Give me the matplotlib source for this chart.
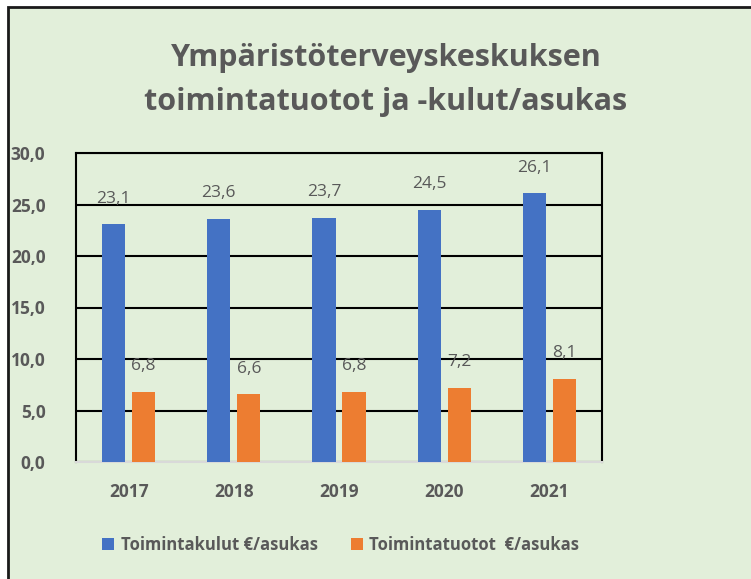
import matplotlib
matplotlib.use("Agg")
import matplotlib.pyplot as plt
import numpy as np
from matplotlib.patches import Rectangle

years = ["2017", "2018", "2019", "2020", "2021"]
kulut = [23.1, 23.6, 23.7, 24.5, 26.1]
tuotot = [6.8, 6.6, 6.8, 7.2, 8.1]
title = "Ympäristöterveyskeskuksen\ntoimintatuotot ja -kulut/asukas"
labels = ["Toimintakulut €/asukas", "Toimintatuotot  €/asukas"]

plt.rcParams["font.family"] = ["Open Sans", "DejaVu Sans"]
W, H = 751, 579
BG = "#e2efda"
TXT = "#595959"
BLUE = "#4472c4"
ORANGE = "#ed7d31"

fig = plt.figure(figsize=(W / 100, H / 100), dpi=100, facecolor="white")
fig.patches.append(Rectangle((8 / W, -0.01), 1.0, 1 - 7 / H + 0.01, transform=fig.transFigure,
                             facecolor=BG, edgecolor="#1a1a1a", lw=2, zorder=-5))

ax = fig.add_axes([76 / W, 1 - 462 / H, (602 - 76) / W, (462 - 153) / H], zorder=2)
ax.set_facecolor(BG)
x = np.arange(len(years))
w = 0.22
b1 = ax.bar(x - 0.143, kulut, w, color=BLUE, zorder=3)
b2 = ax.bar(x + 0.143, tuotot, w, color=ORANGE, zorder=3)
for bars, vals in ((b1, kulut), (b2, tuotot)):
    for r, v in zip(bars, vals):
        ax.text(r.get_x() + r.get_width() / 2, v + 1.7, f"{v:.1f}".replace(".", ","),
                ha="center", va="bottom", fontsize=12.5, color=TXT, zorder=4)

ax.set_ylim(0, 30)
ax.set_xlim(-0.5, 4.5)
ax.set_yticks(np.arange(0, 31, 5))
ax.set_yticklabels([f"{t:.1f}".replace(".", ",") for t in np.arange(0, 31, 5)])
ax.set_xticks(x)
ax.set_xticklabels(years)
ax.yaxis.grid(True, color="black", lw=1.5, zorder=1)
ax.set_axisbelow(True)
ax.tick_params(length=0, labelsize=12.5, labelcolor=TXT)
ax.tick_params(axis="x", pad=15)
ax.tick_params(axis="y", pad=22)
for lab in ax.get_xticklabels() + ax.get_yticklabels():
    lab.set_fontweight("bold")
for s in ("left", "top", "right"):
    ax.spines[s].set_color("black")
    ax.spines[s].set_linewidth(1.5)
ax.spines["bottom"].set_color("#d9d9d9")
ax.spines["bottom"].set_linewidth(1.5)

fig.text(386 / W, 1 - 80 / H, title, ha="center", va="center", fontsize=22, fontweight="bold",
         color=TXT, linespacing=1.6)

leg = fig.legend([b1, b2], labels, loc="center", bbox_to_anchor=(341 / W, 1 - 545 / H), ncol=2,
                 frameon=False, fontsize=12, handlelength=0.7, handleheight=0.7,
                 handletextpad=0.4, columnspacing=2.0)
for t in leg.get_texts():
    t.set_color(TXT)
    t.set_fontweight("bold")

fig.savefig("out.png", dpi=100, facecolor="white")
